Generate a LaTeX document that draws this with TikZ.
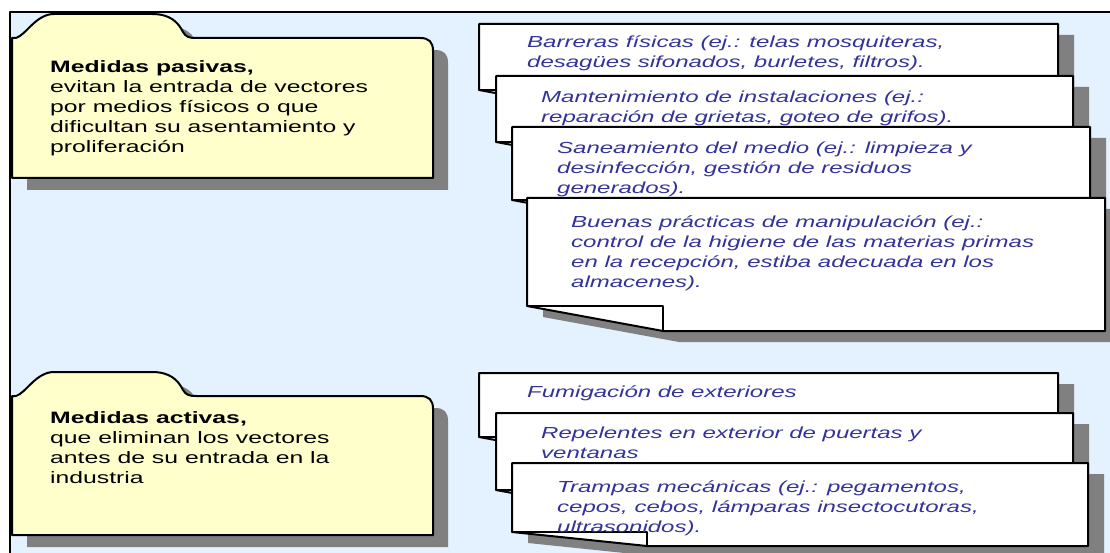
\documentclass[tikz,border=0pt]{standalone}
\usepackage{fontspec}
\setmainfont{Liberation Sans}[FakeStretch=1.5]
\usepackage{tikz}
\definecolor{paleblue}{RGB}{228,241,255}
\definecolor{cream}{RGB}{255,255,204}
\definecolor{ink}{RGB}{51,51,153}
\definecolor{shadowgray}{RGB}{128,128,128}

\newcommand{\folderpath}[3]{(12,#3) -- (12,#2) -- (16,#2) .. controls (26,#2-3) and (36,#1) .. (54,#1) -- (152,#1) .. controls (170,#1) and (178,#1+8) .. (183,#2-6) .. controls (186,#2-1) and (189,#2) .. (196,#2) -- (420,#2) .. controls (429,#2) and (433,#2+4) .. (433,#2+13) -- (433,#3) -- cycle}

\newcommand{\paperbox}[6]{%
\fill[shadowfill] (#1+16,#2+11) -- (#3+16,#2+11) -- (#3+16,#6+11) -- (#5+16,#6+11) -- (#1+16,#4+11) -- cycle;
\filldraw[paper] (#1,#2) -- (#3,#2) -- (#3,#6) -- (#5,#6) -- (#1,#4) -- cycle;
\draw[edge] (#1,#4) -- (#5,#4) -- (#5,#6);
}

\begin{document}
\begin{tikzpicture}[x=1pt,y=-1pt,
  edge/.style={line width=2pt,line join=round},
  shadowfill/.style={fill=shadowgray},
  paper/.style={edge,fill=white,draw=black},
  folder/.style={edge,fill=cream,draw=black},
  foldertext/.style={inner sep=0pt,align=left,anchor=north west,font=\fontsize{16.5}{20}\selectfont},
  papertext/.style={foldertext,text=ink,font=\itshape\fontsize{16}{20}\selectfont}]
\useasboundingbox (0,0) rectangle (1110,553);
\clip (0,0) rectangle (1110,553);
\fill[white] (0,0) rectangle (1110,553);
\fill[paleblue] (10,12) rectangle (1112,555);
\draw[edge] (10,555) -- (10,12) -- (1112,12);

\fill[shadowfill,xshift=15pt,yshift=-12pt] \folderpath{14}{38}{178};
\filldraw[folder] \folderpath{14}{38}{178};
\fill[shadowfill,xshift=15pt,yshift=-12pt] \folderpath{372}{396}{535};
\filldraw[folder] \folderpath{372}{396}{535};

\node[foldertext] (pasivas) at (50,58) {\strut\textbf{Medidas pasivas,}\\evitan la entrada de vectores\\por medios físicos o que\\dificultan su asentamiento y\\proliferación};
\node[foldertext] (activas) at (50,409) {\strut\textbf{Medidas activas,}\\que eliminan los vectores\\antes de su entrada en la\\industria};

\paperbox{479}{24}{1058}{90}{615}{115}
\paperbox{496}{76}{1073}{142}{632}{167}
\paperbox{512}{127}{1090}{200}{648}{225}
\paperbox{527}{198}{1105}{306}{663}{331}
\paperbox{479}{373}{1058}{437}{615}{462}
\paperbox{496}{413}{1073}{490}{632}{515}
\paperbox{512}{463}{1088}{532}{647}{546}

\node[papertext] (barreras) at (527,33) {\strut Barreras físicas (ej.: telas mosquiteras,\\desagües sifonados, burletes, filtros).};
\node[papertext] (mantenimiento) at (541,88) {\strut Mantenimiento de instalaciones (ej.:\\reparación de grietas, goteo de grifos).};
\node[papertext] (saneamiento) at (557,139) {\strut Saneamiento del medio (ej.: limpieza y\\desinfección, gestión de residuos\\generados).};
\node[papertext] (practicas) at (571,213) {\strut Buenas prácticas de manipulación (ej.:\\control de la higiene de las materias primas\\en la recepción, estiba adecuada en los\\almacenes).};
\node[papertext] (fumigacion) at (527,383) {\strut Fumigación de exteriores};
\node[papertext] (repelentes) at (541,424) {\strut Repelentes en exterior de puertas y\\ventanas};
\node[papertext] (trampas) at (557,478) {\strut Trampas mecánicas (ej.: pegamentos,\\cepos, cebos, lámparas insectocutoras,\\ultrasonidos).};
\end{tikzpicture}
\end{document}
